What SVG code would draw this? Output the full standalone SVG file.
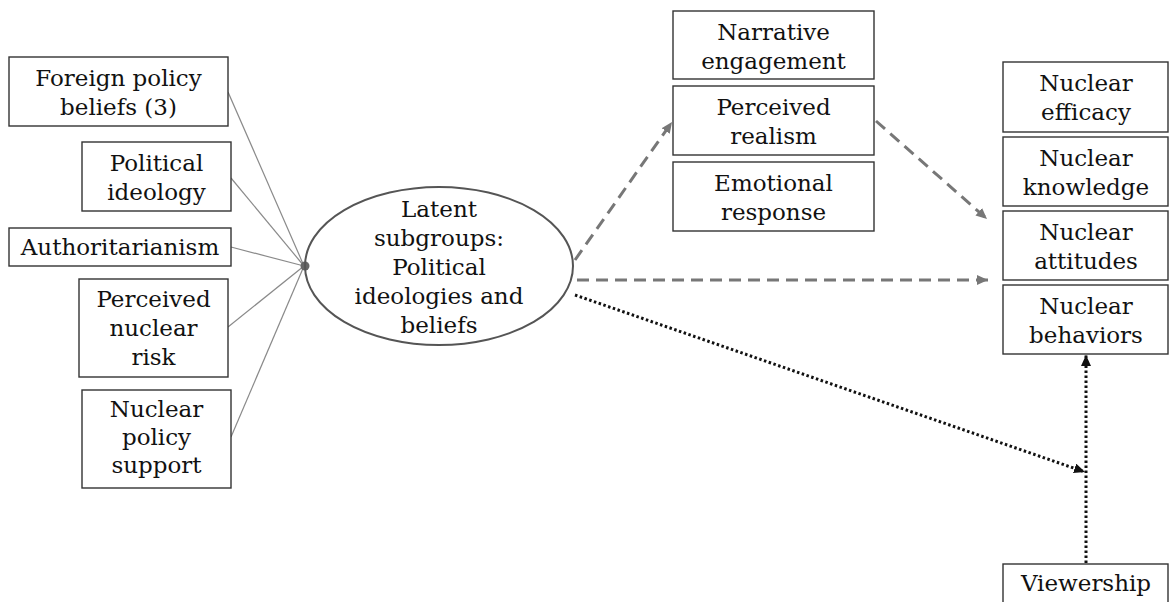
<svg xmlns="http://www.w3.org/2000/svg" width="1169" height="602" viewBox="0 0 1169 602">
<style>
.box{fill:#fff;stroke:#333;stroke-width:1.4}
.t{font-family:"DejaVu Serif","Liberation Serif",serif;font-size:23px;fill:#111;text-anchor:middle}
.thin{stroke:#8a8a8a;stroke-width:1.2;fill:none}
.dash{stroke:#777;stroke-width:3;stroke-dasharray:12,7;fill:none}
.dot{stroke:#111;stroke-width:3;stroke-dasharray:2.5,2.5;fill:none}
</style>
<defs>
<marker id="ag" markerUnits="userSpaceOnUse" markerWidth="12" markerHeight="12" refX="11" refY="5" orient="auto"><path d="M0,0 L11,5 L0,10 z" fill="#777"/></marker>
<marker id="ab" markerUnits="userSpaceOnUse" markerWidth="12" markerHeight="12" refX="11" refY="5" orient="auto"><path d="M0,0 L11,5 L0,10 z" fill="#111"/></marker>
</defs>
<rect width="1169" height="602" fill="#fff"/>
<g id="connectors">
<line class="thin" x1="228" y1="92" x2="304" y2="266"/>
<line class="thin" x1="231" y1="178" x2="304" y2="266"/>
<line class="thin" x1="231" y1="247" x2="304" y2="266"/>
<line class="thin" x1="228" y1="327" x2="304" y2="266"/>
<line class="thin" x1="231" y1="437" x2="304" y2="266"/>
<circle cx="305" cy="266" r="4.5" fill="#666"/>
<line class="dash" x1="575" y1="260" x2="672" y2="122" marker-end="url(#ag)"/>
<line class="dash" x1="876" y1="121" x2="987" y2="219" marker-end="url(#ag)"/>
<line class="dash" x1="577" y1="280" x2="988" y2="280" marker-end="url(#ag)"/>
<line class="dot" x1="575" y1="295" x2="1085" y2="472" marker-end="url(#ab)"/>
<line class="dot" x1="1086" y1="563" x2="1086" y2="355" marker-end="url(#ab)"/>
</g>
<g id="foreign"><rect class="box" x="9" y="57" width="219" height="69"/><text class="t" x="118.5" y="86">Foreign policy</text><text class="t" x="118.5" y="115">beliefs (3)</text></g>
<g id="ideology"><rect class="box" x="82" y="142" width="149" height="69"/><text class="t" x="156.5" y="171">Political</text><text class="t" x="156.5" y="200">ideology</text></g>
<g id="auth"><rect class="box" x="9" y="228" width="222" height="38"/><text class="t" x="120" y="255">Authoritarianism</text></g>
<g id="risk"><rect class="box" x="79" y="279" width="149" height="98"/><text class="t" x="153.5" y="307">Perceived</text><text class="t" x="153.5" y="336">nuclear</text><text class="t" x="153.5" y="365">risk</text></g>
<g id="support"><rect class="box" x="82" y="390" width="149" height="98"/><text class="t" x="156.5" y="417">Nuclear</text><text class="t" x="156.5" y="445">policy</text><text class="t" x="156.5" y="473">support</text></g>
<g id="latent"><ellipse cx="439" cy="266" rx="134" ry="79" fill="none" stroke="#555" stroke-width="2"/>
<text class="t" x="439" y="217">Latent</text><text class="t" x="439" y="246">subgroups:</text><text class="t" x="439" y="275">Political</text><text class="t" x="439" y="304">ideologies and</text><text class="t" x="439" y="333">beliefs</text></g>
<g id="narrative"><rect class="box" x="673" y="11" width="201" height="68"/><text class="t" x="773.5" y="40">Narrative</text><text class="t" x="773.5" y="69">engagement</text></g>
<g id="realism"><rect class="box" x="673" y="86" width="201" height="69"/><text class="t" x="773.5" y="115">Perceived</text><text class="t" x="773.5" y="144">realism</text></g>
<g id="emotional"><rect class="box" x="673" y="162" width="201" height="69"/><text class="t" x="773.5" y="191">Emotional</text><text class="t" x="773.5" y="220">response</text></g>
<g id="efficacy"><rect class="box" x="1003" y="62" width="165" height="70"/><text class="t" x="1086" y="91">Nuclear</text><text class="t" x="1086" y="120">efficacy</text></g>
<g id="knowledge"><rect class="box" x="1003" y="137" width="165" height="69"/><text class="t" x="1086" y="166">Nuclear</text><text class="t" x="1086" y="195">knowledge</text></g>
<g id="attitudes"><rect class="box" x="1003" y="211" width="165" height="69"/><text class="t" x="1086" y="240">Nuclear</text><text class="t" x="1086" y="269">attitudes</text></g>
<g id="behaviors"><rect class="box" x="1003" y="285" width="165" height="69"/><text class="t" x="1086" y="314">Nuclear</text><text class="t" x="1086" y="343">behaviors</text></g>
<g id="viewership"><rect class="box" x="1003" y="564" width="165" height="50"/><text class="t" x="1086" y="591">Viewership</text></g>
</svg>
